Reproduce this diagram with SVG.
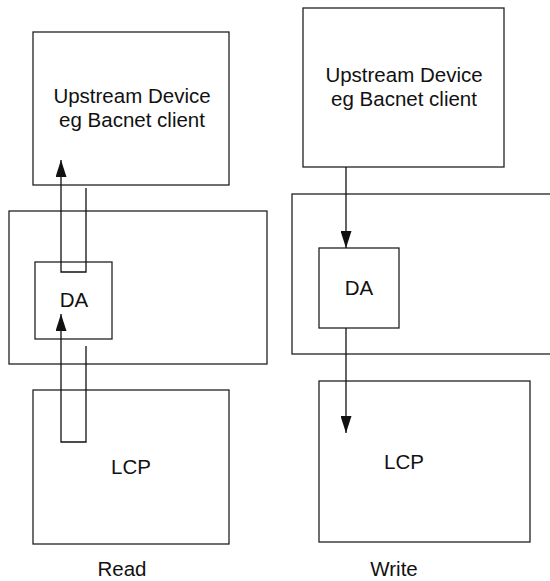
<svg xmlns="http://www.w3.org/2000/svg" width="550" height="581" viewBox="0 0 550 581">
  <style>
    .box { fill: none; stroke: #222; stroke-width: 1.3; }
    .wire { fill: none; stroke: #111; stroke-width: 1.3; }
    .lbl { font-family: "Liberation Sans", Arial, sans-serif; font-size: 20.5px; fill: #111; text-anchor: middle; }
  </style>
  <defs>
    <marker id="arrow" markerUnits="userSpaceOnUse" markerWidth="17" markerHeight="11" refX="17" refY="5.5" viewBox="0 0 17 11" orient="auto">
      <path d="M0,0 L17,5.5 L0,11 Z" fill="#111"/>
    </marker>
  </defs>
  <rect width="550" height="581" fill="#fff"/>

  <!-- Read side -->
  <g id="read-upstream">
    <rect class="box" x="33" y="32" width="196" height="153"/>
    <text class="lbl" x="132" y="103">Upstream Device</text>
    <text class="lbl" x="132" y="127">eg Bacnet client</text>
  </g>
  <g id="read-host">
    <rect class="box" x="9" y="211" width="258" height="153"/>
  </g>
  <g id="read-da">
    <rect class="box" x="35" y="262" width="77" height="77"/>
    <text class="lbl" x="74" y="307">DA</text>
  </g>
  <g id="read-lcp">
    <rect class="box" x="33" y="390" width="196" height="154"/>
    <text class="lbl" x="131" y="474">LCP</text>
  </g>
  <text class="lbl" x="122" y="576">Read</text>

  <!-- Write side -->
  <g id="write-upstream">
    <rect class="box" x="303" y="8" width="201" height="159"/>
    <text class="lbl" x="404" y="82">Upstream Device</text>
    <text class="lbl" x="404" y="106">eg Bacnet client</text>
  </g>
  <g id="write-host">
    <rect class="box" x="292" y="194" width="270" height="160"/>
  </g>
  <g id="write-da">
    <rect class="box" x="319" y="248" width="80" height="80"/>
    <text class="lbl" x="359" y="295">DA</text>
  </g>
  <g id="write-lcp">
    <rect class="box" x="319" y="381" width="211" height="161"/>
    <text class="lbl" x="404" y="469">LCP</text>
  </g>
  <text class="lbl" x="394" y="576">Write</text>

  <!-- Connectors -->
  <g id="connectors">
    <path class="wire" d="M86,188 V272 H61 V160" marker-end="url(#arrow)"/>
    <path class="wire" d="M86,346 V442 H61 V314" marker-end="url(#arrow)"/>
    <path class="wire" d="M346,167 V248" marker-end="url(#arrow)"/>
    <path class="wire" d="M346,328 V433" marker-end="url(#arrow)"/>
  </g>
</svg>
